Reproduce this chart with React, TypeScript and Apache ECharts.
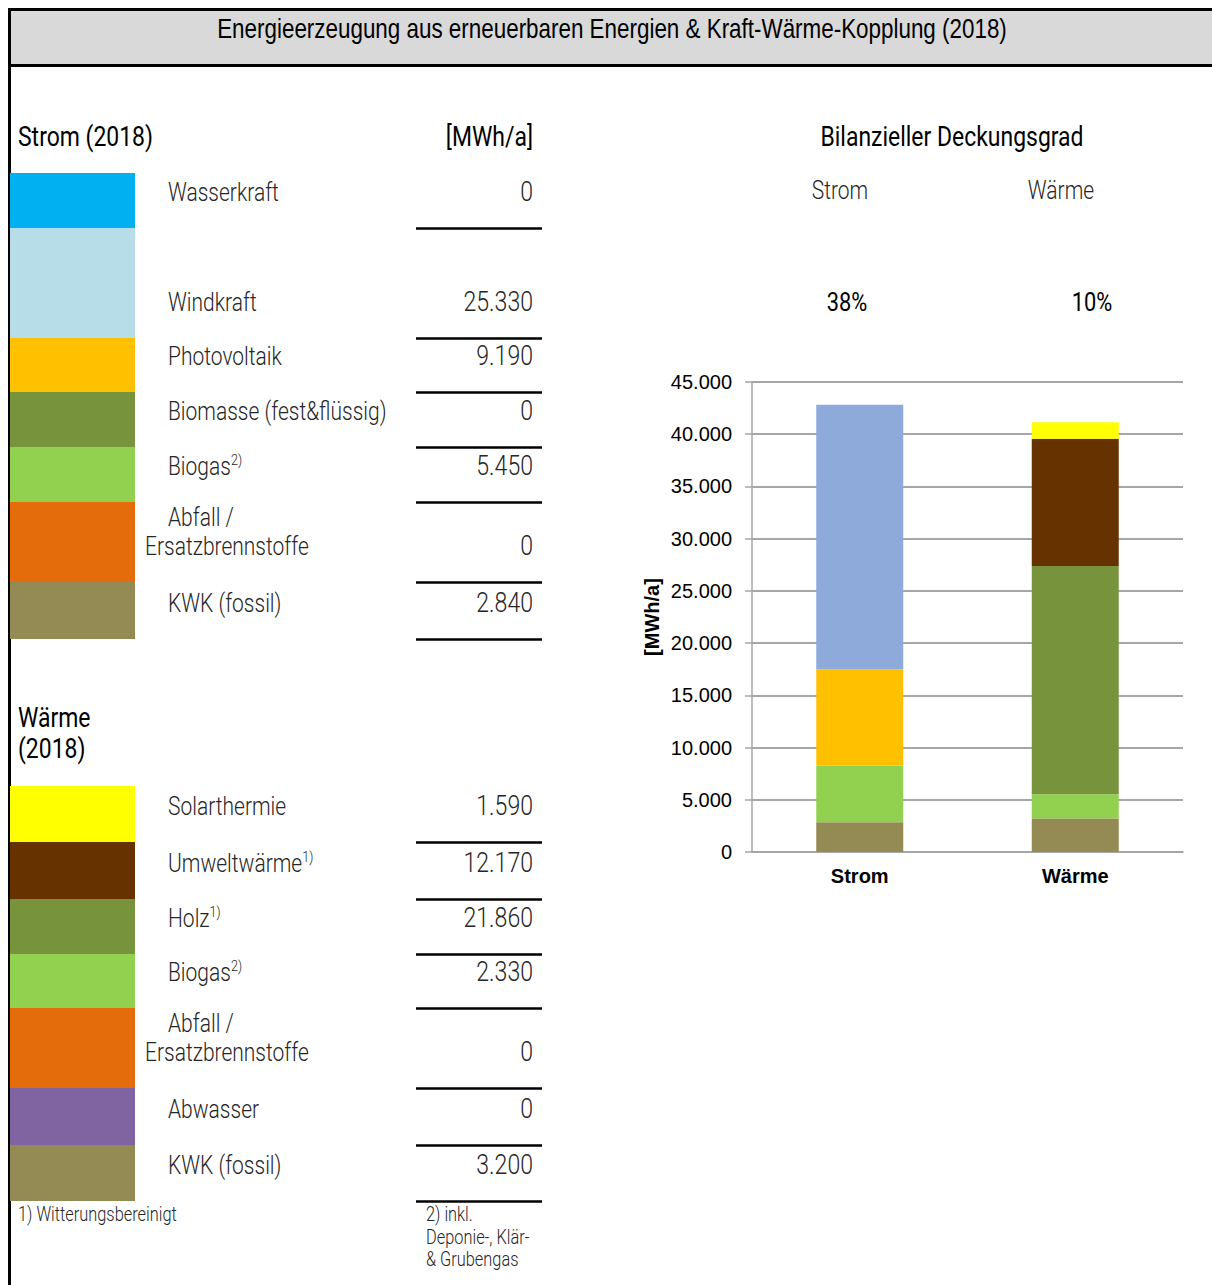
import React, { useEffect, useRef } from "react";
import * as echarts from "echarts";

// ---------- DATA ----------
const categories = ["Strom", "Wärme"];
const coverage = [38, 10];

const stromItems = [
  "Wasserkraft",
  "Windkraft",
  "Photovoltaik",
  "Biomasse (fest&flüssig)",
  "Biogas",
  "Abfall /\nErsatzbrennstoffe",
  "KWK (fossil)",
];
const stromValues = [0, 25330, 9190, 0, 5450, 0, 2840];
const stromNotes = ["", "", "", "", "2)", "", ""];

const waermeItems = [
  "Solarthermie",
  "Umweltwärme",
  "Holz",
  "Biogas",
  "Abfall /\nErsatzbrennstoffe",
  "Abwasser",
  "KWK (fossil)",
];
const waermeValues = [1590, 12170, 21860, 2330, 0, 0, 3200];
const waermeNotes = ["", "1)", "1)", "2)", "", "", ""];

const yMax = 45000;
const yInterval = 5000;

// ---------- STYLES / LAYOUT ----------
const stromSwatch = ["#00b0f0", "#b7dde8", "#ffc000", "#77933c", "#92d050", "#e46c0a", "#948a54"];
const stromBar = ["#00b0f0", "#8eaadb", "#ffc000", "#77933c", "#92d050", "#e46c0a", "#948a54"];
const waermeSwatch = ["#ffff00", "#663300", "#77933c", "#92d050", "#e46c0a", "#8064a2", "#948a54"];
const waermeBar = waermeSwatch;

const stromBounds = [173, 228, 338, 392, 447, 502, 582, 639];
const waermeBounds = [786, 842, 899, 954, 1008, 1088, 1145, 1201];

const fmt = (v: number) => String(v).replace(/\B(?=(\d{3})+(?!\d))/g, ".");

const ROBOTO = "Roboto";
const SX = 0.84;

function txt(x: number, y: number, text: string, o: any = {}) {
  return {
    type: "text",
    x,
    y,
    scaleX: o.sx ?? SX,
    silent: true,
    style: {
      text,
      fontFamily: o.family ?? ROBOTO,
      fontWeight: o.w ?? 300,
      fontSize: o.fs ?? 25,
      fill: o.color ?? "#262626",
      align: o.align ?? "left",
      verticalAlign: "middle",
    },
  };
}

function supTxt(x: number, y: number, text: string, note: string) {
  return {
    type: "text",
    x,
    y,
    scaleX: SX,
    silent: true,
    style: {
      text: `{a|${text}}{s|${note}}`,
      align: "left",
      verticalAlign: "middle",
      rich: {
        a: { fontFamily: ROBOTO, fontWeight: 300, fontSize: 25, fill: "#262626", lineHeight: 30 },
        s: {
          fontFamily: ROBOTO,
          fontWeight: 300,
          fontSize: 15,
          fill: "#262626",
          lineHeight: 19,
          verticalAlign: "top",
        },
      },
    },
  };
}

function tableElements(items: string[], values: number[], notes: string[], swatch: string[], bounds: number[]) {
  const els: any[] = [];
  items.forEach((name, i) => {
    const top = bounds[i];
    const bottom = bounds[i + 1];
    els.push({
      type: "rect",
      silent: true,
      shape: { x: 10, y: top, width: 125, height: bottom - top },
      style: { fill: swatch[i] },
    });
    const lines = name.split("\n");
    if (lines.length === 2) {
      els.push(txt(168, bottom - 64, lines[0]));
      els.push(txt(145, bottom - 35, lines[1]));
    } else if (notes[i]) {
      els.push(supTxt(168, bottom - 35, name, notes[i]));
    } else {
      els.push(txt(168, bottom - 35, name));
    }
    els.push(txt(533, bottom - 36.5, fmt(values[i]), { align: "right", fs: 27.5 }));
    els.push({
      type: "line",
      silent: true,
      shape: { x1: 416, y1: bottom + 0.5, x2: 542, y2: bottom + 0.5 },
      style: { stroke: "#000", lineWidth: 2.5 },
    });
  });
  return els;
}

export default function App() {
  const ref = useRef<HTMLDivElement>(null);

  useEffect(() => {
    if (!ref.current) return;
    const chart = echarts.init(ref.current, undefined, { renderer: "svg" });

    const series: any[] = [];
    // stack bottom -> top = table order reversed
    for (let i = stromItems.length - 1; i >= 0; i--) {
      series.push({
        name: "Strom: " + stromItems[i].replace("\n", " "),
        type: "bar",
        stack: "total",
        barWidth: 87,
        data: [stromValues[i], "-"],
        itemStyle: { color: stromBar[i] },
      });
    }
    for (let i = waermeItems.length - 1; i >= 0; i--) {
      series.push({
        name: "Wärme: " + waermeItems[i].replace("\n", " "),
        type: "bar",
        stack: "total",
        barWidth: 87,
        data: ["-", waermeValues[i]],
        itemStyle: { color: waermeBar[i] },
      });
    }

    const graphics: any[] = [
      // title bar
      {
        type: "rect",
        silent: true,
        shape: { x: 9.5, y: 9.5, width: 1230, height: 56 },
        style: { fill: "#d9d9d9", stroke: "#000", lineWidth: 3 },
      },
      txt(612, 28, "Energieerzeugung aus erneuerbaren Energien & Kraft-Wärme-Kopplung (2018)", {
        family: "Liberation Sans",
        w: 400,
        fs: 27.5,
        sx: 0.815,
        color: "#000",
        align: "center",
      }),
      // left border
      {
        type: "line",
        silent: true,
        shape: { x1: 9.5, y1: 9, x2: 9.5, y2: 1290 },
        style: { stroke: "#000", lineWidth: 3 },
      },
      // headings
      txt(18, 137, "Strom (2018)", { w: 400, fs: 27, sx: 0.85, color: "#000" }),
      txt(533, 137, "[MWh/a]", { w: 400, fs: 27, sx: 0.85, color: "#000", align: "right" }),
      txt(18, 718, "Wärme", { w: 400, fs: 27, sx: 0.85, color: "#000" }),
      txt(18, 749, "(2018)", { w: 400, fs: 27, sx: 0.85, color: "#000" }),
      ...tableElements(stromItems, stromValues, stromNotes, stromSwatch, stromBounds),
      ...tableElements(waermeItems, waermeValues, waermeNotes, waermeSwatch, waermeBounds),
      // footnotes
      txt(18, 1214, "1) Witterungsbereinigt", { fs: 19.5 }),
      txt(426, 1214, "2) inkl.", { fs: 19.5 }),
      txt(426, 1237, "Deponie-, Klär-", { fs: 19.5 }),
      txt(426, 1259, "& Grubengas", { fs: 19.5 }),
      // right header
      txt(952, 137, "Bilanzieller Deckungsgrad", { w: 400, fs: 27, sx: 0.85, color: "#000", align: "center" }),
      txt(840, 191, categories[0], { align: "center" }),
      txt(1061, 191, categories[1], { align: "center" }),
      txt(847, 302, coverage[0] + "%", { w: 400, fs: 26, color: "#000", align: "center" }),
      txt(1092, 302, coverage[1] + "%", { w: 400, fs: 26, color: "#000", align: "center" }),
    ];

    chart.setOption({
      animation: false,
      grid: { left: 752, right: 29, top: 382, bottom: 433, containLabel: false },
      xAxis: {
        type: "category",
        data: categories,
        axisLine: { lineStyle: { color: "#a6a6a6", width: 1.5 } },
        axisTick: { show: false },
        axisLabel: {
          fontFamily: "Liberation Sans",
          fontWeight: "bold",
          fontSize: 20,
          color: "#000",
          margin: 14,
        },
      },
      yAxis: {
        type: "value",
        min: 0,
        max: yMax,
        interval: yInterval,
        name: "[MWh/a]",
        nameLocation: "middle",
        nameGap: 90,
        nameRotate: 90,
        nameTextStyle: { fontFamily: "Liberation Sans", fontWeight: "bold", fontSize: 20, color: "#000" },
        axisLine: { show: true, lineStyle: { color: "#a6a6a6", width: 1.5 } },
        axisTick: { show: true, length: 7, lineStyle: { color: "#a6a6a6", width: 1.5 } },
        splitLine: { lineStyle: { color: "#a6a6a6", width: 2 } },
        axisLabel: {
          fontFamily: "Liberation Sans",
          fontSize: 20,
          color: "#000",
          margin: 20,
          formatter: (v: number) => fmt(v),
        },
      },
      series,
      graphic: { elements: graphics },
    });

    return () => chart.dispose();
  }, []);

  return (
    <div
      ref={ref}
      style={{ position: "absolute", left: 0, top: 0, width: 1212, height: 1285, background: "#fff" }}
    />
  );
}
